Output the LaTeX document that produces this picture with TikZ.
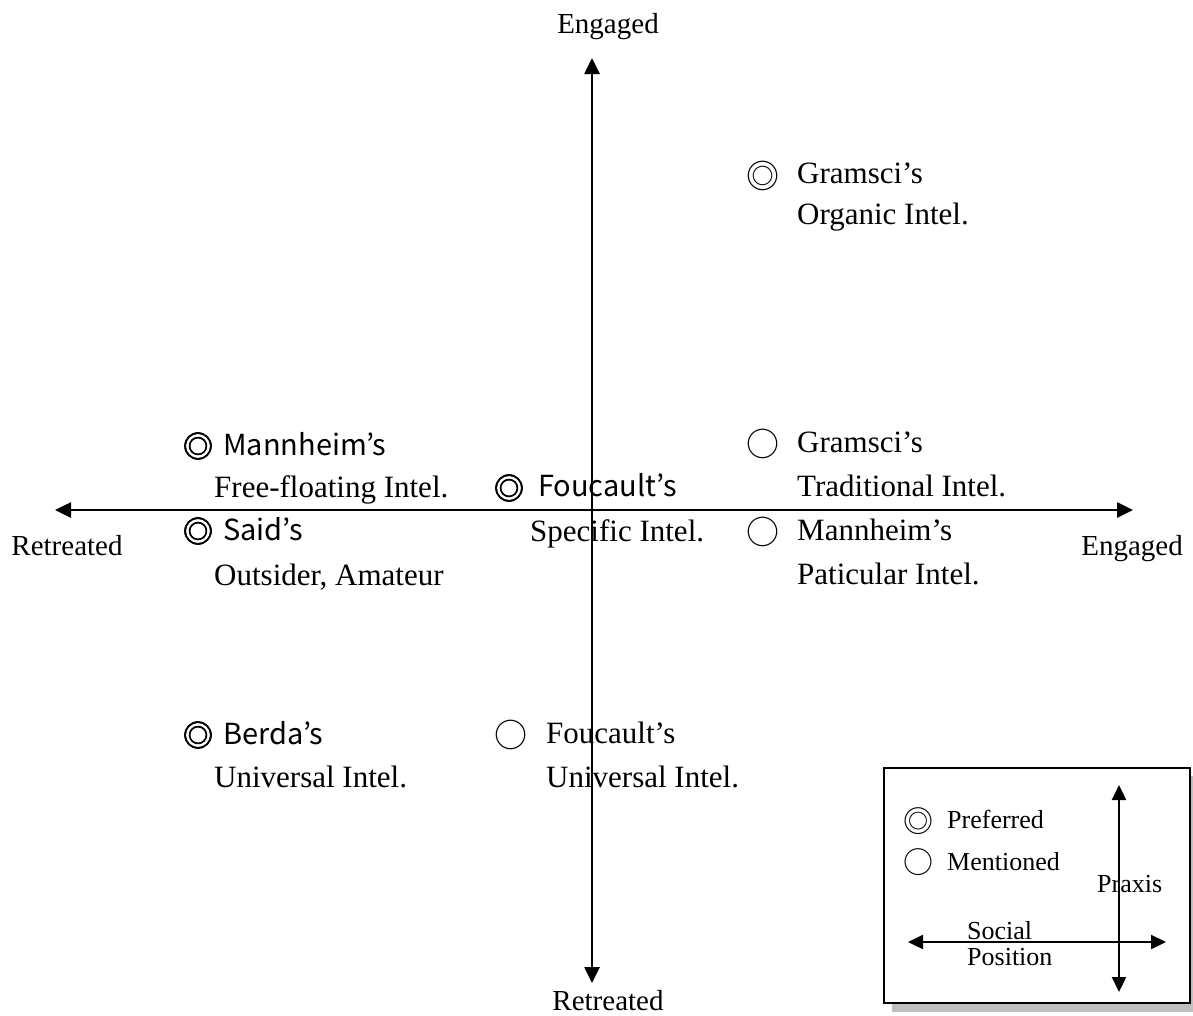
\documentclass[tikz,border=0pt]{standalone}
\usepackage{fontspec}
\setmainfont{Liberation Serif}
\newfontfamily\gothic{Noto Sans CJK JP}
\newfontfamily\gothicbold[FakeBold=2.5]{Noto Sans CJK JP}
\usetikzlibrary{arrows.meta}
\begin{document}
\begin{tikzpicture}[x=1pt,y=-1pt,
  lab/.style={anchor=base west, inner sep=0pt, font=\fontsize{31}{31}\selectfont},
  glab/.style={anchor=base west, inner sep=0pt, font=\gothic\fontsize{29}{29}\selectfont},
  axlab/.style={anchor=base, inner sep=0pt, font=\fontsize{29}{29}\selectfont},
  leglab/.style={anchor=base west, inner sep=0pt, font=\fontsize{26}{26}\selectfont},
  thinsym/.style={anchor=center, inner sep=0pt, font=\gothic\fontsize{33}{33}\selectfont},
  thicksym/.style={anchor=center, inner sep=0pt, font=\gothicbold\fontsize{30}{30}\selectfont},
  legsym/.style={anchor=center, inner sep=0pt, font=\gothic\fontsize{30}{30}\selectfont},
  axis/.style={line width=2.6pt, {Triangle[length=16pt,width=15pt]}-{Triangle[length=16pt,width=15pt]}},
  legaxis/.style={line width=2.3pt, {Triangle[length=15pt,width=14pt]}-{Triangle[length=15pt,width=14pt]}}]
\useasboundingbox (0,0) rectangle (1193,1015);

% axis labels
\node[axlab] (topl) at (608,33) {Engaged};
\node[axlab] (botl) at (608,1010) {Retreated};
\node[axlab] (leftl) at (67,555) {Retreated};
\node[axlab] (rightl) at (1132,555) {Engaged};

% Gramsci organic
\node[thinsym] (s1) at (763,176) {◎};
\node[lab] (t1a) at (797,183) {Gramsci’s};
\node[lab] (t1b) at (797,224) {Organic Intel.};

% Mannheim free-floating
\node[thicksym] (s2) at (198,446) {◎};
\node[glab] (t2a) at (223,455) {Mannheim’s};
\node[lab] (t2b) at (214,497) {Free-floating Intel.};

% Said
\node[thicksym] (s3) at (198,531) {◎};
\node[glab] (t3a) at (223,540) {Said’s};
\node[lab] (t3b) at (214,585) {Outsider, Amateur};

% Foucault specific
\node[thicksym] (s4) at (509,488) {◎};
\node[glab] (t4a) at (538,496) {Foucault’s};
\node[lab] (t4b) at (530,541) {Specific Intel.};

% Gramsci traditional
\node[thinsym] (s5) at (763,444) {○};
\node[lab] (t5a) at (797,452) {Gramsci’s};
\node[lab] (t5b) at (797,496) {Traditional Intel.};

% Mannheim particular
\node[thinsym] (s6) at (763,532) {○};
\node[lab] (t6a) at (797,540) {Mannheim’s};
\node[lab] (t6b) at (797,584) {Paticular Intel.};

% Berda
\node[thicksym] (s7) at (198,735) {◎};
\node[glab] (t7a) at (223,744) {Berda’s};
\node[lab] (t7b) at (214,787) {Universal Intel.};

% Foucault universal
\node[thinsym] (s8) at (511,735) {○};
\node[lab] (t8a) at (546,743) {Foucault’s};
\node[lab] (t8b) at (546,787) {Universal Intel.};

% main axes
\coordinate (vt) at (592,58);
\coordinate (vb) at (592,983);
\coordinate (hl) at (55,510);
\coordinate (hr) at (1133,510);
\draw[axis] (vb) -- (vt);
\draw[axis] (hl) -- (hr);

% legend box with shadow
\fill[black!25] (892,776) rectangle (1199,1012);
\draw[line width=2pt, fill=white] (884,768) rectangle (1190,1003);

\node[legsym] (ls1) at (918,821) {◎};
\node[leglab] (lt1) at (947,828) {Preferred};
\node[legsym] (ls2) at (918,862) {○};
\node[leglab] (lt2) at (947,870) {Mentioned};
\node[leglab] (lpx) at (1097,892) {Praxis};
\node[leglab] (lsoc) at (967,939) {Social};
\node[leglab] (lpos) at (967,965) {Position};

\coordinate (lvt) at (1119,785);
\coordinate (lvb) at (1119,992);
\coordinate (lhl) at (908,942);
\coordinate (lhr) at (1166,942);
\draw[legaxis] (lvb) -- (lvt);
\draw[legaxis] (lhl) -- (lhr);
\end{tikzpicture}
\end{document}
